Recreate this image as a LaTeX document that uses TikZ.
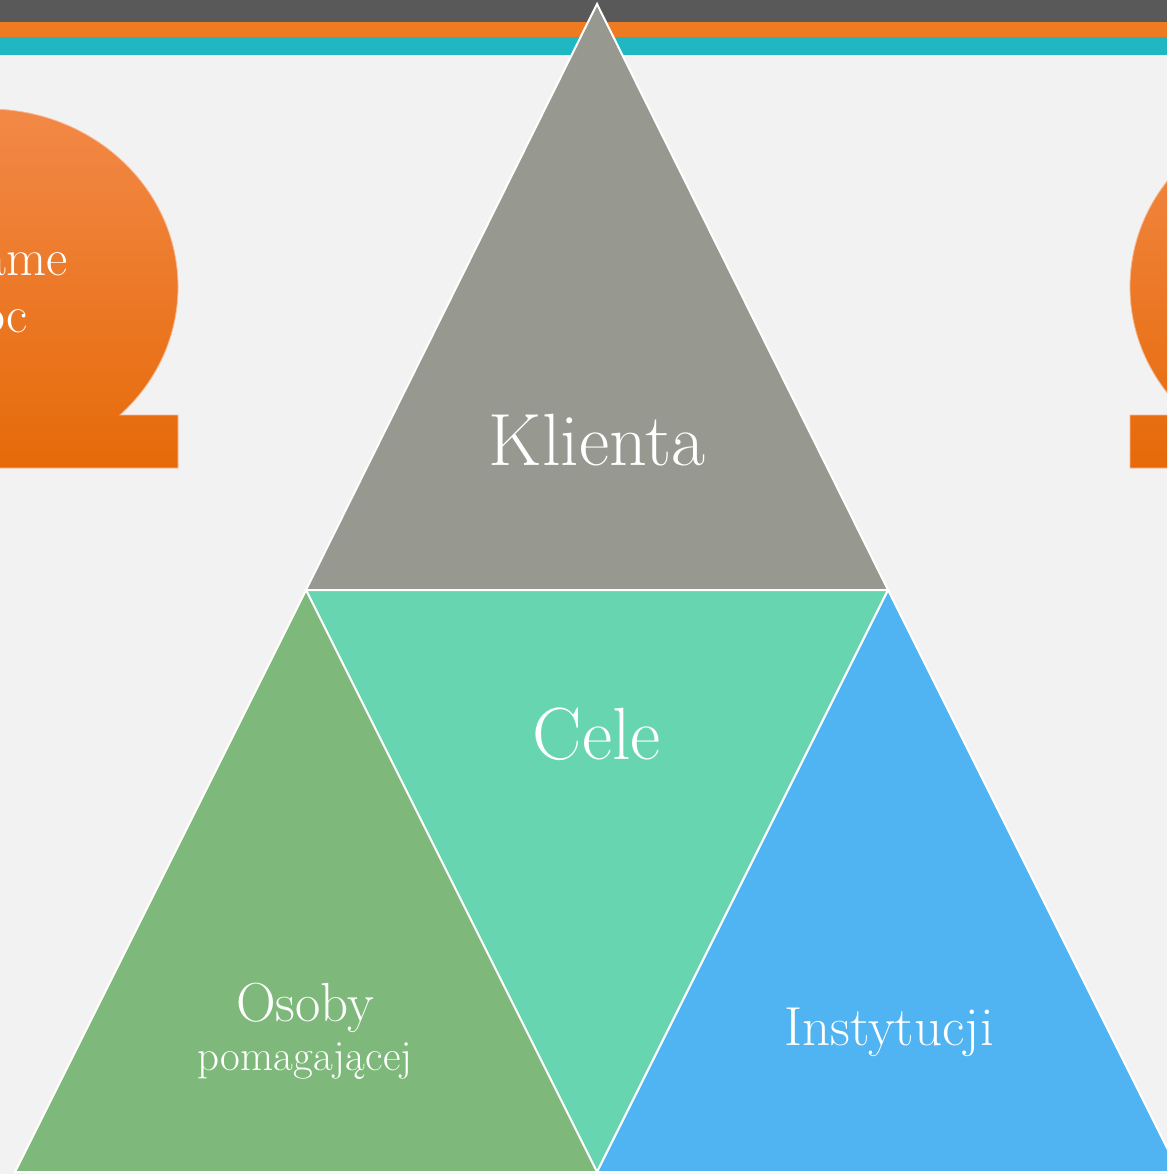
\documentclass[tikz,border=0pt]{standalone}
\usepackage{xcolor}
\usepackage{tikz}
\usetikzlibrary{
  positioning,
  calc,
  shapes}
\definecolor{bgGray}{HTML}{F2F2F2}
\definecolor{barDark}{HTML}{595959}
\definecolor{barOrange}{HTML}{EE7A22}
\definecolor{barTeal}{HTML}{1FB8C2}
\definecolor{klientaGray}{HTML}{979890}
\definecolor{celeGreen}{HTML}{66D5B0}
\definecolor{osobyGreen}{HTML}{7EB87A}
\definecolor{instBlue}{HTML}{50B3F2}
\definecolor{omTop}{HTML}{F38A4A}
\definecolor{omMid}{HTML}{FA7E16}
\definecolor{omBot}{HTML}{E66A09}
\tikzset{every picture/.style={font issue=\normalsize},
         font issue/.style={execute at begin picture={#1\selectfont}},
         tri/.style={draw=white, line width=2pt, line join=miter},
         omega/.style={top color=omTop, middle color=omMid, bottom color=omBot, draw=omTop!60!white, line width=0.8pt},
         label text/.style={text=white, inner sep=0pt, anchor=base}
        }

\begin{document}
\begin{tikzpicture}[x=1pt, y=-1pt]
\clip (0,0) rectangle (1167,1174);
\fill[bgGray] (0,0) rectangle (1167,1174);
% stripes on top
\fill[barDark] (0,0) rectangle (1167,22);
\fill[barOrange] (0,22) rectangle (1167,37);
\fill[barTeal] (0,37) rectangle (1167,55);
% orange side shapes
\shade[omega] (178,468) -- (178,415) -- (120,415)
  arc[start angle=46, end angle=-200, x radius=190, y radius=178] -- (-250,468) -- cycle;
\shade[omega] (1130,468) -- (1130,415) -- (1188,415)
  arc[start angle=134, end angle=380, x radius=190, y radius=178] -- (1420,468) -- cycle;
\node[label text, anchor=base east, font=\fontsize{52}{60}\selectfont] at (68,275)(ame){ame};
\node[label text, anchor=base east, font=\fontsize{52}{60}\selectfont] at (28,332)(oc){oc};
% the four triangles
\coordinate (apex) at (597,4);
\coordinate (ml) at (306,590);
\coordinate (mr) at (888,590);
\coordinate (bl) at (15,1172);
\coordinate (bm) at (597,1172);
\coordinate (br) at (1179,1172);
\filldraw[tri, fill=klientaGray] (apex) -- (mr) -- (ml) -- cycle;
\filldraw[tri, fill=celeGreen] (ml) -- (mr) -- (bm) -- cycle;
\filldraw[tri, fill=osobyGreen] (ml) -- (bm) -- (bl) -- cycle;
\filldraw[tri, fill=instBlue] (mr) -- (br) -- (bm) -- cycle;
% texts
\node[label text, font=\fontsize{74}{80}\selectfont] at (597,465)(klienta){Klienta};
\node[label text, font=\fontsize{74}{80}\selectfont] at (597,759)(cele){Cele};
\node[label text, font=\fontsize{55}{60}\selectfont] at (889,1045)(inst){Instytucji};
\node[label text, font=\fontsize{55}{60}\selectfont] at (305,1021)(osoby){Osoby};
\node[label text, font=\fontsize{43}{50}\selectfont] at (305,1070)(pomag){pomagającej};
\end{tikzpicture}
\end{document}
